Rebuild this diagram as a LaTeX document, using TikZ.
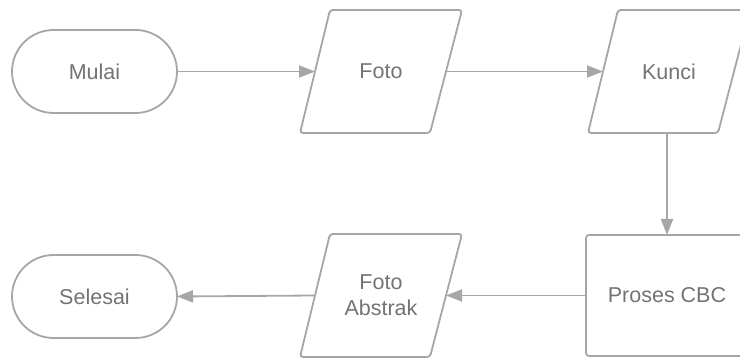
\documentclass[tikz,border=0pt]{standalone}
\usepackage{fontspec}
\setmainfont{Liberation Sans}
\usetikzlibrary{shapes.misc,arrows.meta}
\definecolor{lc}{HTML}{A6A6A6}
\definecolor{tc}{HTML}{737373}
\tikzset{
  base/.style={text=tc, inner sep=0pt, outer sep=0pt,
    font=\fontsize{21.5}{26}\selectfont, align=center},
  edge/.style={draw=lc, line width=1.8pt},
  term/.style={base, edge, rounded rectangle, minimum width=165pt, minimum height=83pt},
  io/.style={base, rectangle, minimum width=162pt, minimum height=123pt},
  iobox/.style={edge, rounded corners=3pt},
  procbox/.style={base, edge, rectangle, minimum width=162pt, minimum height=121pt, rounded corners=3pt},
  conn/.style={draw=lc, line width=1.8pt, -{Triangle[length=16pt,width=12pt]}}
}
\newcommand{\parabox}[1]{%
  \draw[iobox] ([xshift=30pt]#1.north west) -- (#1.north east)
    -- ([xshift=-32pt]#1.south east) -- (#1.south west) -- cycle;}
\begin{document}
\begin{tikzpicture}[x=1pt,y=-1pt]
\clip (0,0) rectangle (740,358);
\node[term] (mulai) at (94.5,71.5) {Mulai};
\node[io] (foto) at (381,71.5) {Foto};
\node[io] (kunci) at (669,71.5) {Kunci};
\node[procbox] (proses) at (667,295.5) {Proses CBC};
\node[io] (abstrak) at (381,295.5) {Foto\\Abstrak};
\node[term] (selesai) at (94.5,296.5) {Selesai};
\parabox{foto}
\parabox{kunci}
\parabox{abstrak}
\draw[conn] (mulai.east) -- ([xshift=15pt]foto.west);
\draw[conn] ([xshift=-16pt]foto.east) -- ([xshift=15pt]kunci.west);
\draw[conn] (proses.north |- kunci.south) -- (proses.north);
\draw[conn] (proses.west) -- ([xshift=-16pt]abstrak.east);
\draw[conn] ([xshift=15pt]abstrak.west) -- (selesai.east);
\end{tikzpicture}
\end{document}
